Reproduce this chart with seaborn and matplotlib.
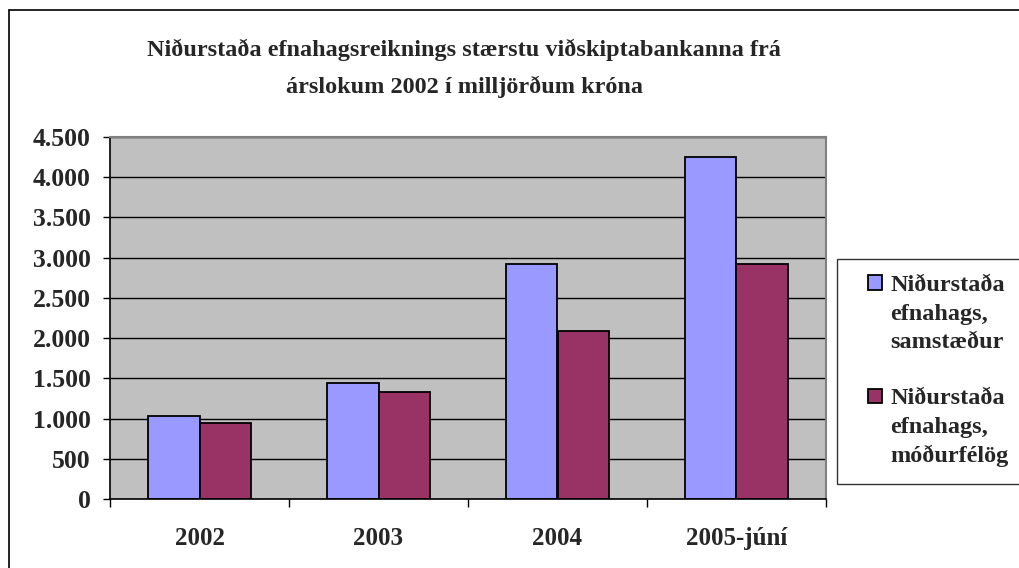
import numpy as np
import pandas as pd
import matplotlib.pyplot as plt
from matplotlib.ticker import FuncFormatter, MultipleLocator, FixedLocator
from matplotlib.lines import Line2D
from matplotlib.patches import Patch, Rectangle
from matplotlib.legend_handler import HandlerPatch
import seaborn as sns

# Values (milljarðar króna)
years = ['2002', '2003', '2004', '2005-júní']
samstaedur = [1036, 1438, 2927, 4254]
modurfelog = [945, 1326, 2093, 2927]
series_names = ['Niðurstaða efnahags, samstæður', 'Niðurstaða efnahags, móðurfélög']
colors = ['#9999FF', '#993366']
title = 'Niðurstaða efnahagsreiknings stærstu viðskiptabankanna frá\nárslokum 2002 í milljörðum króna'

df = pd.DataFrame({
    'Ár': years * 2,
    'Upphæð': samstaedur + modurfelog,
    'Röð': [series_names[0]] * len(years) + [series_names[1]] * len(years),
})

sns.set_style('white')
plt.rcParams['font.family'] = ['Liberation Serif', 'DejaVu Serif']
plt.rcParams['font.weight'] = 'bold'

fig = plt.figure(figsize=(10.2, 5.68), dpi=100)
ax = fig.add_axes([110 / 1020, 1 - 499 / 568, 716 / 1020, 362 / 568])
ax.set_facecolor('#C0C0C0')
ax.set_axisbelow(True)

sns.barplot(data=df, x='Ár', y='Upphæð', hue='Röð', palette=colors, width=0.57,
            saturation=1, edgecolor='black', linewidth=1.3, ax=ax)

# axes, ticks, grid
ax.set_ylim(0, 4500)
ax.set_xlim(-0.5, len(years) - 0.5)
ax.yaxis.set_major_locator(MultipleLocator(500))
ax.yaxis.set_major_formatter(FuncFormatter(lambda v, p: f'{int(v):,}'.replace(',', '.')))
ax.grid(axis='y', color='black', linewidth=1)
ax.xaxis.set_minor_locator(FixedLocator(np.arange(-0.5, len(years), 1.0)))
ax.tick_params(axis='x', which='major', length=0, pad=20, labelsize=18)
ax.tick_params(axis='x', which='minor', length=6, width=1, color='black', direction='out', bottom=True)
ax.tick_params(axis='y', length=5, width=1, color='black', direction='out', left=True, pad=9, labelsize=18.5)
ax.set_xlabel('')
ax.set_ylabel('')
for side in ['left', 'bottom']:
    ax.spines[side].set_color('black')
    ax.spines[side].set_linewidth(1.2)
for side in ['top', 'right']:
    ax.spines[side].set_color('#808080')
    ax.spines[side].set_linewidth(1.5)


# legend: Excel style, wrapped labels with the colour box on the first line
def square(legend, orig_handle, xdescent, ydescent, width, height, fontsize):
    return Rectangle((-xdescent + width - height, -ydescent), height, height)


bar_handles = [c.patches[0] for c in ax.containers]
ax.get_legend().remove()
blank = Patch(facecolor='none', edgecolor='none')
leg_handles, leg_labels, hmap = [], [], {}
for i, (h, name) in enumerate(zip(bar_handles, series_names)):
    words = name.split(' ')
    if i > 0:
        leg_handles.append(blank)
        leg_labels.append(' ')
    leg_handles += [h, blank, blank]
    leg_labels += words
    hmap[h] = HandlerPatch(patch_func=square)

leg = fig.legend(leg_handles, leg_labels, handler_map=hmap,
                 loc='upper left', bbox_to_anchor=(837 / 1020, 1 - 259 / 568),
                 fontsize=17.5, frameon=True, fancybox=False, edgecolor='black',
                 handlelength=1.2, handleheight=0.54, handletextpad=0.33,
                 labelspacing=0.3, borderpad=0.67, borderaxespad=0)
leg.get_frame().set_linewidth(1)

fig.text(0.455, 1 - 68 / 568, title, ha='center', va='center', fontsize=17.5,
         fontweight='bold', linespacing=1.85)

# outer chart border (left and top visible)
fig.add_artist(Line2D([9 / 1020, 9 / 1020], [0, 1 - 10 / 568], color='black', linewidth=1.2))
fig.add_artist(Line2D([9 / 1020, 1], [1 - 10 / 568, 1 - 10 / 568], color='black', linewidth=1.2))

fig.savefig('out.png', dpi=100, facecolor='white')
